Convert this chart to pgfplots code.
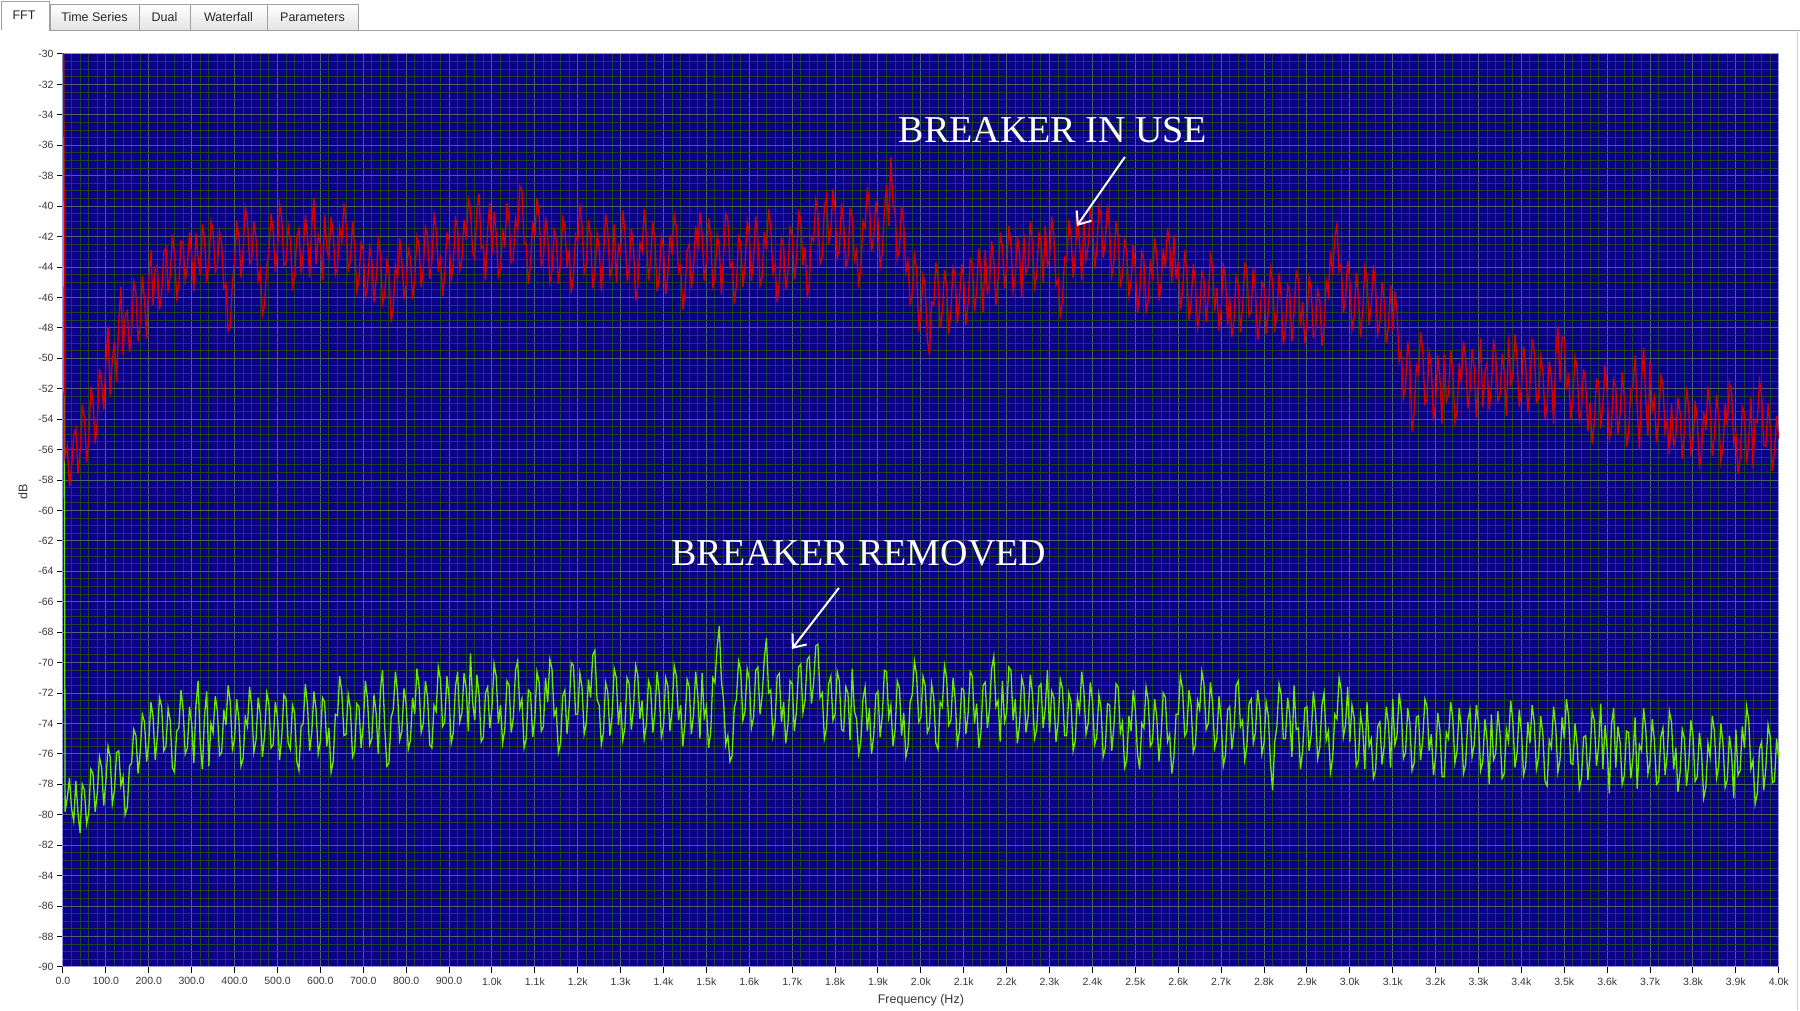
\documentclass[border=0pt]{standalone}
\usepackage{fontspec}
\setmainfont{Liberation Sans}
\newfontfamily\annfont{Liberation Serif}
\usepackage{pgfplots}
\pgfplotsset{compat=1.18}
\usetikzlibrary{arrows.meta}
\definecolor{plotbg}{RGB}{12,0,136}
\definecolor{majgrid}{RGB}{72,102,104}
\definecolor{mingrid}{RGB}{26,70,38}
\definecolor{framecol}{RGB}{150,150,220}
\definecolor{redline}{RGB}{212,0,0}
\definecolor{greenline}{RGB}{108,234,0}
\definecolor{tabborder}{RGB}{160,160,160}
\definecolor{tabgray}{RGB}{228,228,228}
\definecolor{ticktext}{RGB}{55,55,55}
\begin{document}
\begin{tikzpicture}[x=1pt,y=1pt]
\fill[white] (0,0) rectangle (1800,1010);
% tabs
\foreach \a/\b/\t in {50/139/Time Series,139/190/Dual,190/267/Waterfall,267/358/Parameters}{
  \shade[top color=white,bottom color=tabgray] (\a,980) rectangle (\b,1006);
  \draw[tabborder] (\a,980) -- (\a,1006) -- (\b,1006) -- (\b,980);
  \node[font=\fontsize{12.5}{14}\selectfont, text=black!85] at ({(\a+\b)/2},993) {\t};
}
\fill[white] (1,980) rectangle (49,1009);
\draw[tabborder] (1,980) -- (1,1009) -- (49,1009) -- (49,980);
\node[font=\fontsize{12.5}{14}\selectfont, text=black!85] at (24,995) {FFT};
\draw[tabborder] (49,980) -- (1800,980);
\draw[black!20] (1797.5,0) -- (1797.5,980);
\begin{axis}[
  at={(63pt,43pt)}, anchor=south west,
  width=1716pt, height=913pt, scale only axis,
  xmin=0, xmax=4000, ymin=-90, ymax=-30,
  axis background/.style={fill=plotbg},
  axis line style={draw=framecol, line width=1pt},
  xtick={0,100,...,4000},
  xticklabels={0.0,100.0,200.0,300.0,400.0,500.0,600.0,700.0,800.0,900.0,1.0k,1.1k,1.2k,1.3k,1.4k,1.5k,1.6k,1.7k,1.8k,1.9k,2.0k,2.1k,2.2k,2.3k,2.4k,2.5k,2.6k,2.7k,2.8k,2.9k,3.0k,3.1k,3.2k,3.3k,3.4k,3.5k,3.6k,3.7k,3.8k,3.9k,4.0k},
  ytick={-90,-88,...,-30},
  yticklabels={-90,-88,-86,-84,-82,-80,-78,-76,-74,-72,-70,-68,-66,-64,-62,-60,-58,-56,-54,-52,-50,-48,-46,-44,-42,-40,-38,-36,-34,-32,-30},
  minor x tick num=4, minor y tick num=3,
  grid=both,
  major grid style={draw=majgrid, line width=1pt},
  minor grid style={draw=mingrid, line width=1pt},
  tick align=outside, tick pos=left,
  major tick length=6pt, minor tick length=0pt,
  major tick style={draw=black, line width=1pt},
  tick label style={font=\fontsize{10.5}{12}\selectfont, text=ticktext},
  xticklabel style={yshift=-1pt},
  xlabel={Frequency (Hz)}, ylabel={dB},
  label style={font=\fontsize{12.5}{14}\selectfont, text=ticktext},
  xlabel style={at={(axis description cs:0.5,0)}, anchor=center, yshift=-33pt},
  ylabel style={at={(axis description cs:0,0.5)}, anchor=center, yshift=40pt, xshift=19pt},
]
\addplot[greenline, line width=1.3pt] table[x expr=\coordindex*5, y index=0, header=false, row sep=\\] {
-20\\-79.8\\-78.9\\-77.6\\-79.6\\-80.4\\-77.8\\-79.9\\-81.2\\-78.0\\-78.4\\-80.6\\-79.9\\-77.0\\-77.3\\-79.8\\-78.6\\-76.2\\-76.9\\-79.4\\
-77.8\\-75.5\\-76.2\\-79.3\\-78.4\\-75.9\\-75.8\\-78.1\\-77.5\\-80.0\\-79.5\\-76.8\\-76.6\\-74.4\\-74.8\\-77.3\\-75.9\\-73.4\\-73.9\\-76.5\\
-75.2\\-72.6\\-73.6\\-76.4\\-74.9\\-72.3\\-72.9\\-75.8\\-75.5\\-73.0\\-73.8\\-76.9\\-77.2\\-74.5\\-74.3\\-71.8\\-73.1\\-76.0\\-75.6\\-72.9\\
-74.0\\-76.6\\-72.8\\-71.2\\-75.3\\-77.0\\-73.5\\-71.9\\-76.8\\-74.0\\-74.6\\-72.2\\-73.2\\-76.1\\-75.9\\-73.1\\-74.1\\-71.5\\-72.6\\-75.7\\
-75.0\\-72.4\\-73.7\\-76.8\\-76.3\\-73.6\\-74.2\\-71.6\\-72.9\\-75.9\\-75.1\\-72.3\\-73.4\\-76.2\\-74.8\\-72.0\\-72.7\\-75.6\\-75.4\\-72.6\\
-73.6\\-76.4\\-74.9\\-72.1\\-72.4\\-75.3\\-75.7\\-72.8\\-73.3\\-76.5\\-77.1\\-74.2\\-74.0\\-71.4\\-72.8\\-75.8\\-74.6\\-71.9\\-73.1\\-76.0\\
-75.2\\-72.3\\-72.6\\-75.5\\-74.3\\-77.2\\-76.5\\-73.4\\-73.5\\-70.9\\-71.9\\-74.8\\-74.7\\-72.1\\-73.0\\-76.2\\-75.8\\-72.7\\-72.9\\-75.6\\
-74.1\\-71.2\\-72.4\\-75.4\\-75.0\\-72.1\\-73.3\\-76.0\\-71.8\\-70.5\\-74.2\\-76.8\\-76.6\\-73.6\\-73.1\\-70.6\\-72.0\\-75.1\\-74.5\\-71.7\\
-72.7\\-75.7\\-75.1\\-72.3\\-73.4\\-70.4\\-71.5\\-74.6\\-74.0\\-71.2\\-72.3\\-75.4\\-75.6\\-72.8\\-73.2\\-70.3\\-71.1\\-74.2\\-73.9\\-70.9\\
-72.2\\-75.3\\-74.6\\-71.6\\-70.6\\-73.9\\-73.3\\-70.7\\-71.7\\-74.5\\-69.4\\-72.6\\-73.8\\-70.8\\-72.1\\-75.2\\-74.9\\-72.0\\-71.6\\-74.3\\
-73.0\\-70.1\\-70.9\\-74.0\\-72.8\\-75.3\\-74.4\\-71.2\\-71.5\\-74.6\\-73.6\\-70.5\\-69.9\\-73.0\\-72.4\\-75.6\\-75.0\\-71.8\\-72.0\\-74.9\\
-73.7\\-70.6\\-71.3\\-74.5\\-74.2\\-71.0\\-72.6\\-69.8\\-70.4\\-73.5\\-73.1\\-75.9\\-75.3\\-72.2\\-71.8\\-74.7\\-72.9\\-70.0\\-70.2\\-73.4\\
-73.4\\-70.7\\-71.6\\-74.7\\-74.0\\-71.1\\-72.3\\-69.5\\-69.2\\-72.4\\-72.8\\-75.4\\-74.6\\-71.3\\-71.9\\-74.8\\-73.5\\-70.4\\-71.0\\-74.1\\
-72.6\\-75.1\\-74.3\\-71.0\\-71.4\\-74.4\\-73.0\\-70.2\\-70.8\\-73.7\\-72.5\\-75.0\\-74.1\\-71.2\\-71.7\\-74.6\\-73.3\\-70.6\\-72.0\\-74.9\\
-74.2\\-71.0\\-71.5\\-74.5\\-73.1\\-70.2\\-70.9\\-73.8\\-72.8\\-75.5\\-74.0\\-71.1\\-71.6\\-74.7\\-73.4\\-70.6\\-72.2\\-75.0\\-70.7\\-73.6\\
-72.9\\-75.6\\-74.6\\-71.0\\-71.3\\-69.0\\-67.6\\-71.2\\-72.5\\-75.4\\-74.8\\-76.5\\-76.1\\-73.0\\-72.4\\-69.9\\-70.5\\-73.8\\-73.2\\-70.4\\
-71.1\\-74.3\\-73.6\\-70.5\\-70.3\\-73.4\\-72.2\\-69.7\\-68.4\\-72.0\\-71.8\\-74.8\\-73.9\\-70.9\\-70.7\\-73.9\\-72.6\\-75.3\\-74.1\\-71.2\\
-71.4\\-74.5\\-73.2\\-70.3\\-70.1\\-73.3\\-72.5\\-69.8\\-69.6\\-72.7\\-71.3\\-68.9\\-68.8\\-72.3\\-72.0\\-75.0\\-74.3\\-71.4\\-70.9\\-73.8\\
-73.4\\-70.6\\-71.2\\-74.4\\-74.5\\-71.6\\-72.0\\-75.1\\-70.4\\-73.2\\-73.7\\-76.0\\-75.2\\-72.4\\-71.6\\-74.5\\-73.0\\-76.0\\-74.8\\-72.1\\
-71.9\\-74.9\\-73.5\\-70.5\\-70.6\\-73.6\\-72.8\\-75.5\\-74.4\\-71.2\\-71.7\\-74.8\\-73.3\\-76.2\\-75.5\\-72.6\\-72.1\\-69.9\\-70.8\\-73.9\\
-73.6\\-70.9\\-71.5\\-74.6\\-74.2\\-71.4\\-72.3\\-75.3\\-75.7\\-72.6\\-72.9\\-70.2\\-71.0\\-74.1\\-73.8\\-71.0\\-72.4\\-75.4\\-74.5\\-71.7\\
-71.8\\-74.7\\-73.4\\-70.6\\-70.9\\-74.0\\-72.7\\-75.6\\-74.6\\-71.5\\-71.3\\-74.3\\-73.1\\-70.4\\-69.6\\-72.9\\-72.5\\-75.2\\-71.2\\-73.9\\
-73.3\\-70.3\\-70.5\\-73.8\\-72.4\\-75.3\\-74.1\\-71.0\\-71.6\\-74.6\\-73.5\\-70.8\\-72.0\\-75.0\\-74.4\\-71.6\\-71.4\\-74.3\\-73.0\\-70.5\\
-74.6\\-71.9\\-72.3\\-75.2\\-73.9\\-71.1\\-71.7\\-74.8\\-74.8\\-72.0\\-72.6\\-75.8\\-75.1\\-72.3\\-73.2\\-70.6\\-71.9\\-74.7\\-74.0\\-71.3\\
-72.5\\-75.4\\-74.9\\-72.1\\-73.0\\-76.2\\-75.6\\-72.7\\-72.8\\-75.8\\-74.2\\-71.4\\-71.6\\-74.6\\-73.9\\-76.9\\-76.4\\-73.5\\-74.5\\-71.8\\
-73.1\\-76.0\\-77.0\\-74.0\\-74.3\\-71.6\\-72.5\\-75.5\\-75.2\\-72.4\\-73.6\\-76.5\\-74.8\\-72.0\\-72.3\\-75.2\\-74.7\\-77.3\\-76.2\\-73.4\\
-73.4\\-70.9\\-71.7\\-74.8\\-74.5\\-71.8\\-72.8\\-75.9\\-75.4\\-72.5\\-73.1\\-70.6\\-71.4\\-74.4\\-74.0\\-71.3\\-72.6\\-75.6\\-75.0\\-72.2\\
-73.7\\-76.8\\-76.1\\-73.1\\-72.9\\-75.7\\-74.4\\-71.5\\-71.2\\-74.2\\-73.8\\-76.4\\-75.5\\-72.7\\-72.4\\-75.3\\-74.6\\-71.8\\-73.0\\-76.0\\
-75.3\\-72.6\\-73.5\\-76.6\\-78.4\\-75.2\\-74.2\\-71.4\\-72.1\\-75.0\\-75.0\\-72.3\\-73.4\\-76.2\\-71.5\\-74.4\\-74.3\\-77.0\\-75.8\\-73.0\\
-72.9\\-75.8\\-74.7\\-71.9\\-73.3\\-76.3\\-75.6\\-72.8\\-72.0\\-75.1\\-74.5\\-77.2\\-76.3\\-73.4\\-73.7\\-71.0\\-71.8\\-74.9\\-74.1\\-71.6\\
-75.2\\-72.8\\-73.6\\-76.8\\-76.4\\-73.4\\-74.3\\-77.0\\-72.6\\-75.5\\-75.0\\-77.6\\-77.1\\-74.2\\-73.9\\-76.7\\-75.5\\-72.9\\-74.0\\-76.9\\
-72.4\\-75.4\\-74.8\\-72.0\\-73.2\\-76.3\\-75.9\\-73.0\\-74.0\\-77.1\\-76.6\\-73.6\\-73.5\\-76.4\\-75.1\\-72.4\\-72.9\\-75.8\\-74.7\\-77.4\\
-76.2\\-73.3\\-74.4\\-77.5\\-77.5\\-74.6\\-75.0\\-72.6\\-73.6\\-76.6\\-75.8\\-73.0\\-74.3\\-77.3\\-76.7\\-73.8\\-73.1\\-76.2\\-75.4\\-72.8\\
-74.0\\-77.1\\-76.5\\-73.7\\-75.1\\-78.0\\-73.4\\-76.4\\-76.0\\-73.2\\-74.6\\-77.6\\-77.3\\-74.4\\-75.2\\-72.5\\-73.8\\-76.9\\-75.9\\-73.1\\
-74.5\\-77.4\\-76.8\\-73.9\\-75.3\\-72.8\\-73.9\\-77.0\\-76.2\\-73.5\\-74.7\\-77.8\\-78.1\\-75.1\\-75.6\\-72.9\\-74.2\\-77.2\\-76.4\\-73.6\\
-75.0\\-72.4\\-73.5\\-76.6\\-76.7\\-74.0\\-75.4\\-78.3\\-77.6\\-74.9\\-74.8\\-77.7\\-76.1\\-73.2\\-73.8\\-76.8\\-75.5\\-72.7\\-77.0\\-74.1\\
-75.7\\-78.6\\-74.1\\-73.0\\-76.9\\-74.2\\-75.2\\-78.0\\-77.4\\-74.5\\-74.6\\-77.6\\-76.3\\-73.6\\-78.3\\-75.4\\-75.8\\-73.0\\-74.4\\-77.3\\
-76.5\\-73.7\\-75.1\\-78.0\\-77.8\\-74.9\\-74.3\\-77.4\\-76.0\\-73.2\\-73.9\\-77.0\\-75.6\\-78.5\\-77.2\\-74.4\\-75.0\\-78.1\\-76.7\\-73.8\\
-74.8\\-77.8\\-77.5\\-74.6\\-75.9\\-78.9\\-78.2\\-75.3\\-76.2\\-73.5\\-74.5\\-77.6\\-76.8\\-74.0\\-75.3\\-78.2\\-77.7\\-74.8\\-76.0\\-78.9\\
-74.4\\-77.4\\-77.1\\-74.2\\-75.6\\-72.9\\-73.8\\-77.0\\-76.4\\-79.3\\-78.6\\-75.7\\-75.2\\-78.4\\-76.9\\-74.1\\-74.9\\-77.9\\-77.8\\-75.0\\
-76.3\\
};
\addplot[redline, line width=1.3pt] table[x expr=\coordindex*5, y index=0, header=false, row sep=\\] {
-20\\-56.5\\-55.8\\-58.4\\-57.2\\-55.1\\-54.6\\-57.6\\-56.1\\-53.2\\-53.9\\-56.8\\-55.3\\-51.9\\-52.8\\-55.6\\-54.2\\-50.7\\-51.6\\-53.4\\
-50.2\\-47.9\\-52.4\\-50.1\\-48.9\\-51.5\\-47.6\\-45.3\\-49.8\\-47.2\\-46.9\\-49.6\\-48.3\\-45.0\\-45.7\\-48.9\\-47.8\\-44.6\\-46.2\\-48.7\\
-44.8\\-42.9\\-46.5\\-44.1\\-43.9\\-46.8\\-45.8\\-43.0\\-42.7\\-45.5\\-44.6\\-41.9\\-43.1\\-46.0\\-45.2\\-42.3\\-42.4\\-44.9\\-44.0\\-41.7\\
-43.2\\-45.6\\-41.8\\-43.4\\-44.5\\-41.2\\-42.3\\-45.0\\-43.8\\-41.0\\-41.6\\-44.3\\-43.9\\-41.7\\-42.5\\-45.4\\-45.1\\-48.2\\-47.9\\-45.0\\
-43.6\\-41.2\\-41.9\\-44.7\\-42.8\\-40.1\\-40.9\\-43.8\\-43.5\\-41.0\\-42.1\\-44.9\\-44.2\\-47.1\\-46.5\\-44.0\\-43.0\\-40.5\\-41.7\\-44.3\\
-42.9\\-39.9\\-40.8\\-43.9\\-43.7\\-41.3\\-42.2\\-45.3\\-44.6\\-42.0\\-41.5\\-44.4\\-43.1\\-40.6\\-42.0\\-44.7\\-41.2\\-39.5\\-43.8\\-41.9\\
-42.5\\-44.9\\-40.6\\-42.8\\-43.4\\-40.7\\-41.8\\-44.5\\-44.0\\-41.4\\-42.3\\-39.8\\-41.1\\-44.2\\-43.6\\-41.0\\-42.7\\-45.6\\-44.8\\-42.4\\
-42.9\\-46.0\\-45.3\\-42.7\\-43.5\\-46.3\\-44.9\\-42.2\\-43.1\\-46.4\\-45.8\\-43.6\\-44.2\\-47.6\\-46.7\\-43.9\\-44.8\\-42.1\\-43.6\\-46.0\\
-45.2\\-42.8\\-43.4\\-46.1\\-44.8\\-42.0\\-42.6\\-45.3\\-44.1\\-41.4\\-42.0\\-44.8\\-43.7\\-40.6\\-41.5\\-44.3\\-43.2\\-45.9\\-44.5\\-41.8\\
-42.1\\-44.8\\-43.9\\-40.8\\-41.4\\-44.2\\-43.6\\-40.9\\-42.2\\-39.6\\-40.3\\-43.0\\-43.5\\-40.1\\-39.2\\-42.8\\-42.6\\-44.9\\-41.5\\-39.8\\
-43.2\\-40.4\\-41.8\\-44.6\\-44.1\\-41.5\\-42.7\\-39.8\\-40.9\\-43.7\\-43.4\\-40.8\\-41.6\\-38.7\\-39.0\\-42.4\\-42.5\\-45.1\\-43.8\\-41.0\\
-42.0\\-39.5\\-40.6\\-43.9\\-43.5\\-40.7\\-41.9\\-45.0\\-44.3\\-41.6\\-42.2\\-45.1\\-43.7\\-40.8\\-41.3\\-44.0\\-42.9\\-45.7\\-44.6\\-41.9\\
-42.4\\-39.9\\-41.2\\-44.4\\-43.8\\-40.9\\-42.0\\-45.4\\-44.5\\-41.8\\-42.7\\-45.6\\-43.4\\-40.5\\-41.6\\-44.6\\-43.9\\-41.2\\-45.0\\-42.6\\
-43.1\\-40.3\\-41.7\\-44.8\\-44.2\\-41.5\\-42.6\\-46.2\\-45.3\\-42.4\\-43.0\\-40.2\\-41.9\\-44.9\\-43.5\\-41.0\\-42.3\\-45.6\\-44.7\\-42.0\\
-42.8\\-45.8\\-44.6\\-41.9\\-43.2\\-40.6\\-41.4\\-44.3\\-43.9\\-46.8\\-45.7\\-42.9\\-42.5\\-45.4\\-44.1\\-41.3\\-42.9\\-40.4\\-41.8\\-44.9\\
-43.6\\-40.8\\-42.0\\-45.3\\-44.8\\-41.9\\-42.7\\-45.8\\-43.3\\-40.5\\-40.9\\-44.0\\-43.7\\-46.4\\-45.2\\-42.0\\-42.4\\-45.3\\-43.9\\-41.0\\
-41.8\\-44.9\\-43.5\\-40.7\\-42.1\\-45.2\\-44.6\\-41.7\\-42.9\\-40.2\\-41.3\\-44.4\\-43.8\\-46.3\\-45.0\\-42.1\\-42.6\\-45.5\\-44.3\\-41.4\\
-41.9\\-44.8\\-43.6\\-40.4\\-40.8\\-43.9\\-42.7\\-45.9\\-45.1\\-42.0\\-42.3\\-39.6\\-40.5\\-43.8\\-43.4\\-40.1\\-39.3\\-42.5\\-41.6\\-38.9\\
-40.2\\-43.4\\-42.8\\-39.8\\-41.1\\-44.0\\-43.5\\-40.2\\-40.7\\-43.6\\-42.9\\-45.1\\-44.2\\-41.0\\-41.4\\-38.9\\-39.8\\-43.0\\-42.0\\-39.7\\
-40.9\\-44.0\\-43.1\\-40.2\\-38.6\\-41.3\\-36.8\\-39.9\\-40.4\\-43.5\\-42.7\\-40.0\\-41.2\\-44.3\\-43.6\\-46.4\\-45.8\\-43.2\\-44.1\\-48.0\\
-47.3\\-44.5\\-45.2\\-48.7\\-49.8\\-46.3\\-46.5\\-43.7\\-44.8\\-48.0\\-47.0\\-44.2\\-45.3\\-48.4\\-46.9\\-44.0\\-44.6\\-47.7\\-46.2\\-43.8\\
-44.9\\-47.8\\-46.4\\-43.5\\-43.8\\-46.9\\-45.6\\-42.8\\-44.2\\-47.0\\-42.9\\-45.7\\-45.1\\-42.3\\-43.7\\-46.5\\-44.8\\-41.9\\-42.6\\-45.4\\
-44.0\\-41.3\\-42.5\\-45.6\\-44.7\\-42.0\\-43.1\\-46.0\\-41.8\\-44.4\\-43.9\\-41.0\\-42.4\\-45.3\\-44.5\\-41.8\\-42.2\\-45.0\\-41.3\\-43.9\\
-43.5\\-40.7\\-42.0\\-45.2\\-44.8\\-47.2\\-46.3\\-43.4\\-43.6\\-40.9\\-41.9\\-44.7\\-43.2\\-40.6\\-42.4\\-44.9\\-40.8\\-43.5\\-42.6\\-40.1\\
-41.2\\-44.1\\-42.9\\-40.0\\-40.6\\-43.4\\-42.3\\-39.9\\-41.5\\-44.6\\-43.7\\-41.0\\-42.0\\-45.2\\-44.6\\-42.1\\-43.1\\-45.9\\-45.0\\-42.5\\
-44.2\\-47.0\\-45.8\\-43.0\\-43.6\\-46.9\\-46.2\\-43.5\\-44.9\\-42.1\\-43.3\\-46.2\\-45.1\\-42.8\\-44.0\\-41.5\\-42.5\\-45.0\\-41.9\\-44.8\\
-43.6\\-46.8\\-45.7\\-42.9\\-44.3\\-47.5\\-46.4\\-43.8\\-45.0\\-48.0\\-47.1\\-44.3\\-44.8\\-47.6\\-46.0\\-43.2\\-43.9\\-46.9\\-45.4\\-48.2\\
-46.8\\-43.9\\-44.6\\-47.8\\-45.9\\-48.6\\-47.5\\-44.6\\-45.2\\-48.3\\-46.6\\-43.8\\-44.1\\-47.2\\-46.9\\-44.0\\-45.5\\-48.8\\-47.8\\-45.0\\
-45.3\\-48.4\\-46.8\\-44.1\\-44.9\\-48.0\\-47.2\\-44.4\\-46.0\\-49.1\\-48.1\\-45.2\\-45.7\\-48.9\\-47.0\\-44.3\\-44.8\\-47.9\\-46.3\\-49.0\\
-47.6\\-44.7\\-45.4\\-48.6\\-48.3\\-45.5\\-46.2\\-49.2\\-47.9\\-44.9\\-45.8\\-43.0\\-44.5\\-42.0\\-41.2\\-44.3\\-43.8\\-47.0\\-46.1\\-43.6\\
-45.0\\-48.1\\-47.3\\-44.4\\-45.8\\-48.6\\-46.9\\-44.0\\-44.7\\-47.8\\-46.5\\-43.9\\-45.3\\-48.4\\-47.6\\-45.0\\-46.1\\-49.0\\-47.9\\-45.2\\
-48.2\\-45.6\\-46.8\\-50.2\\-49.5\\-52.6\\-51.8\\-48.9\\-50.2\\-54.8\\-53.6\\-50.5\\-51.0\\-48.3\\-49.4\\-53.0\\-52.7\\-49.6\\-50.5\\-54.1\\
-52.9\\-49.8\\-51.3\\-54.3\\-49.7\\-52.8\\-52.4\\-49.5\\-50.8\\-54.2\\-53.5\\-50.3\\-51.6\\-48.9\\-49.9\\-53.3\\-52.2\\-49.4\\-50.6\\-53.9\\
-51.4\\-48.7\\-53.2\\-50.9\\-50.3\\-53.4\\-51.9\\-48.9\\-49.6\\-52.8\\-52.5\\-49.7\\-50.9\\-53.8\\-48.6\\-51.7\\-51.3\\-48.4\\-50.1\\-53.2\\
-52.0\\-49.2\\-50.4\\-53.5\\-51.8\\-48.8\\-49.5\\-52.9\\-52.6\\-49.9\\-50.7\\-54.0\\-53.1\\-50.2\\-51.2\\-54.3\\-49.8\\-47.9\\-51.5\\-48.6\\
-48.7\\-52.1\\-51.0\\-54.0\\-52.8\\-49.9\\-50.6\\-54.1\\-53.4\\-50.7\\-51.7\\-54.8\\-52.9\\-55.6\\-54.2\\-51.4\\-51.5\\-54.6\\-53.0\\-50.4\\
-52.3\\-55.3\\-54.5\\-51.4\\-51.9\\-55.0\\-53.7\\-50.9\\-52.6\\-55.8\\-54.9\\-52.0\\-52.0\\-49.8\\-53.3\\-56.0\\-51.4\\-49.3\\-52.8\\-55.1\\
-50.2\\-53.4\\-52.6\\-55.5\\-53.9\\-51.2\\-51.7\\-54.9\\-54.1\\-56.3\\-53.0\\-55.7\\-55.2\\-52.6\\-53.6\\-56.6\\-54.8\\-51.9\\-53.3\\-56.2\\
-55.6\\-52.8\\-54.0\\-57.1\\-56.3\\-53.5\\-54.7\\-51.9\\-53.2\\-56.4\\-55.1\\-52.4\\-53.8\\-56.8\\-55.9\\-53.0\\-54.4\\-51.6\\-52.3\\-55.6\\
-54.9\\-57.6\\-56.6\\-53.2\\-53.6\\-56.9\\-55.4\\-52.6\\-57.2\\-54.0\\-54.2\\-51.5\\-52.4\\-55.7\\-55.8\\-53.0\\-54.5\\-57.4\\-56.2\\-53.8\\
-55.3\\
};
\end{axis}
% annotations
\node[font=\annfont\fontsize{38}{42}\selectfont, text=white] at (1053,880) {BREAKER IN USE};
\draw[white, line width=2pt, -{Straight Barb[length=11pt,width=18pt,line width=2pt]}] (1125,853) -- (1077,784);
\node[font=\annfont\fontsize{38}{42}\selectfont, text=white] at (859,457) {BREAKER REMOVED};
\draw[white, line width=2pt, -{Straight Barb[length=11pt,width=18pt,line width=2pt]}] (839,422) -- (792,361);
\end{tikzpicture}
\end{document}
